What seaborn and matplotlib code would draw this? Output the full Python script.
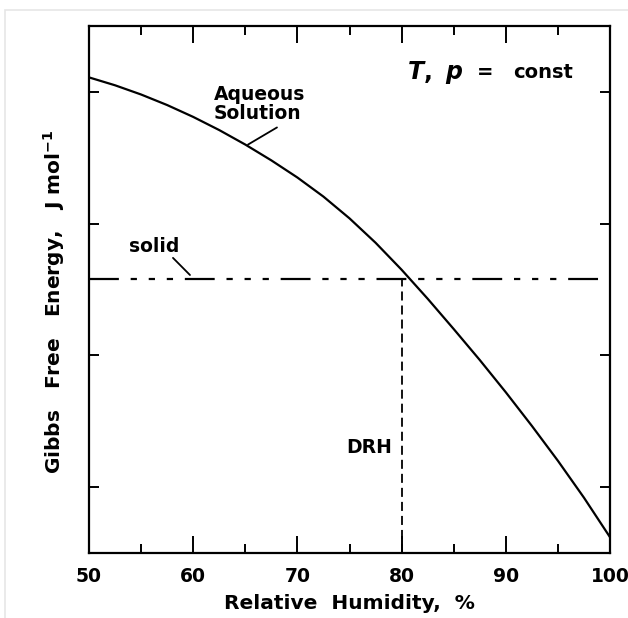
import numpy as np
import pandas as pd
import matplotlib
matplotlib.use("Agg")
import matplotlib.pyplot as plt
from matplotlib.patches import Rectangle
import seaborn as sns

# Relative humidity (%) and Gibbs free energy of the aqueous solution (arbitrary units)
rh = [50, 52.5, 55, 57.5, 60, 62.5, 65, 67.5, 70, 72.5, 75, 77.5,
      80, 82.5, 85, 87.5, 90, 92.5, 95, 97.5, 100]
g_aqueous = [3.61, 3.55, 3.48, 3.40, 3.31, 3.21, 3.10, 2.98, 2.85, 2.705, 2.54, 2.355,
             2.15, 1.93, 1.70, 1.465, 1.22, 0.965, 0.70, 0.42, 0.12]

# Solid phase: constant free energy
solid_rh = [50, 100]
g_solid = 2.08

# Deliquescence relative humidity
drh = 80

x_major = [50, 60, 70, 80, 90, 100]
x_minor = [55, 65, 75, 85, 95]
y_ticks = [0.5, 1.5, 2.5, 3.5]

sns.set_theme(style="ticks")
plt.rcParams["font.family"] = ["DejaVu Sans"]
plt.rcParams["font.weight"] = "bold"
plt.rcParams["text.color"] = "black"
plt.rcParams["axes.labelcolor"] = "black"
plt.rcParams["xtick.color"] = "black"
plt.rcParams["ytick.color"] = "black"

fig = plt.figure(figsize=(6.28, 6.18), dpi=100)
ax = fig.add_axes([89 / 628, 1 - 553 / 618, (610 - 89) / 628, (553 - 26) / 618])

df = pd.DataFrame({"rh": rh, "G": g_aqueous})
sns.lineplot(data=df, x="rh", y="G", ax=ax, color="black", lw=1.6)

# Solid: long dash followed by three short dashes
lw_solid = 1.6
sns.lineplot(x=solid_rh, y=[g_solid, g_solid], ax=ax, color="black", lw=lw_solid)
pattern = [21.5, 8.5, 4.5, 8.5, 4.5, 8.5, 4.5, 8.5]
ax.lines[-1].set_linestyle((0, [v / lw_solid for v in pattern]))

lw_drh = 1.3
sns.lineplot(x=[drh, drh], y=[0, g_solid], ax=ax, color="black", lw=lw_drh,
             estimator=None, sort=False)
ax.lines[-1].set_linestyle((0, [6.5 / lw_drh, 3.6 / lw_drh]))

ax.set_xlim(50, 100)
ax.set_ylim(0, 4)
ax.set_xticks(x_major)
ax.set_xticks(x_minor, minor=True)
ax.set_yticks(y_ticks)
ax.set_yticklabels([])

ax.tick_params(axis="x", which="major", direction="in", length=12, width=1.4,
               top=True, labelsize=13.5, pad=10)
ax.tick_params(axis="x", which="minor", direction="in", length=6.5, width=1.4,
               top=True)
ax.tick_params(axis="y", which="major", direction="in", length=7, width=1.4,
               right=True)
for lab in ax.get_xticklabels():
    lab.set_fontweight("bold")

for sp in ax.spines.values():
    sp.set_linewidth(1.6)
    sp.set_color("black")
    sp.set_visible(True)

ax.set_xlabel("Relative  Humidity,  %", fontsize=14.5, fontweight="bold", labelpad=6)
ax.set_ylabel("Gibbs   Free   Energy,   J mol$^{\\mathbf{-1}}$", fontsize=14.5,
              fontweight="bold")
ax.yaxis.set_label_coords(-0.043, 0.476)

# Annotations
ax.text(56.3, 2.33, "solid", fontsize=13.5, fontweight="bold", ha="center", va="center")
ax.plot([58.06, 59.69], [2.24, 2.11], color="black", lw=1.3)

ax.text(62.0, 3.41, "Aqueous\nSolution", fontsize=13.5, fontweight="bold",
        ha="left", va="center", linespacing=1.0)
ax.plot([68.04, 65.26], [3.23, 3.10], color="black", lw=1.3)

ax.text(79.1, 0.80, "DRH", fontsize=13.5, fontweight="bold", ha="right", va="center")

ax.text(80.5, 3.65, "$\\mathit{T},\\ \\mathit{p}$", fontsize=17, ha="left",
        va="center", family="Liberation Serif")
ax.text(88.0, 3.65, "=", fontsize=14, fontweight="bold", ha="center", va="center")
ax.text(90.7, 3.65, "const", fontsize=14, fontweight="bold", ha="left", va="center")

# Thin light frame around the figure
fig.patches.append(Rectangle((5 / 628, -0.05), 1.2, 1 - 10 / 618 + 0.05,
                             transform=fig.transFigure, fill=False,
                             edgecolor="#e6e6e6", lw=1.2))

fig.savefig("out.png", dpi=100)
